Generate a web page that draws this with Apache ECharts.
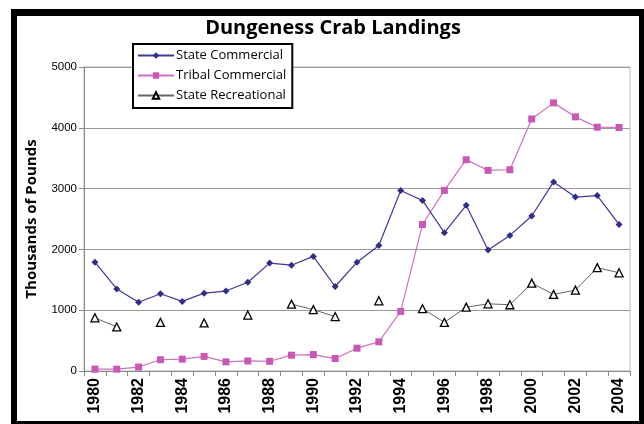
<!DOCTYPE html>
<html>
<head>
<meta charset="utf-8">
<script src="https://cdn.jsdelivr.net/npm/echarts@6/dist/echarts.min.js"></script>
<style>
  html, body { margin: 0; padding: 0; background: #fff; overflow: hidden; }
  #wrap { position: relative; width: 644px; height: 424px; overflow: hidden; }
  #chart { position: absolute; left: 0; top: 0; width: 644px; height: 424px; }
  #frame {
    position: absolute; left: 11px; top: 9px; width: 633px; height: 415px;
    box-sizing: border-box;
    border-left: 6px solid #000; border-top: 7px solid #000;
    border-right: 5px solid #000; border-bottom: 3px solid #000;
    pointer-events: none;
  }
</style>
</head>
<body>
<div id="wrap">
  <div id="chart"></div>
  <div id="frame"></div>
</div>
<script>
const years = ['1980', '1981', '1982', '1983', '1984', '1985', '1986', '1987', '1988', '1989',
  '1990', '1991', '1992', '1993', '1994', '1995', '1996', '1997', '1998', '1999',
  '2000', '2001', '2002', '2003', '2004']
const stateCommercial = [1790, 1350, 1130, 1270, 1145, 1280, 1315, 1460, 1775, 1740,
  1885, 1390, 1790, 2065, 2970, 2805, 2275, 2725, 1990, 2230,
  2550, 3110, 2860, 2885, 2410]
const tribalCommercial = [30, 30, 65, 185, 195, 240, 150, 165, 160, 260,
  270, 205, 375, 480, 980, 2410, 2970, 3475, 3300, 3310,
  4145, 4410, 4180, 4010, 4005]
const stateRecreational = [875, 725, null, 800, null, 790, null, 920, null, 1100,
  1010, 895, null, 1155, null, 1025, 800, 1050, 1105, 1090,
  1445, 1260, 1330, 1700, 1615]
const yTicks = [0, 1000, 2000, 3000, 4000, 5000]

const chart = echarts.init(document.getElementById('chart'))

const option = {
  backgroundColor: '#fff',
  animation: false,
  title: {
    text: 'Dungeness Crab Landings',
    left: 328,
    top: 13,
    textAlign: 'center',
    textStyle: {
      fontFamily: 'Open Sans',
      fontWeight: 'bold',
      fontSize: 20,
      color: '#000'
    }
  },
  legend: {
    orient: 'vertical',
    left: 133,
    top: 44,
    padding: [5, 6, 6, 4],
    itemGap: 7,
    itemWidth: 36,
    itemHeight: 8,
    backgroundColor: '#fff',
    borderColor: '#000',
    borderWidth: 2,
    textStyle: {
      fontFamily: 'Open Sans',
      fontSize: 13,
      color: '#000',
      padding: [0, 0, 0, -3]
    },
    data: ['State Commercial', 'Tribal Commercial', 'State Recreational']
  },
  grid: {
    left: 84,
    right: 14,
    top: 67,
    bottom: 53,
    show: true,
    borderColor: '#bbb',
    borderWidth: 1
  },
  xAxis: {
    type: 'category',
    data: years,
    boundaryGap: true,
    axisLine: { lineStyle: { color: '#888', width: 1 } },
    axisTick: { show: true, interval: 0, length: 5, lineStyle: { color: '#888' } },
    axisLabel: {
      interval: 1,
      rotate: 90,
      margin: 7,
      fontFamily: 'Liberation Sans',
      fontWeight: 'bold',
      fontSize: 16,
      color: '#000'
    },
    splitLine: { show: false }
  },
  yAxis: {
    type: 'value',
    min: yTicks[0],
    max: yTicks[yTicks.length - 1],
    interval: 1000,
    name: 'Thousands of Pounds',
    nameLocation: 'middle',
    nameGap: 45,
    nameTextStyle: {
      fontFamily: 'Open Sans',
      fontWeight: 'bold',
      fontSize: 15,
      color: '#000'
    },
    axisLine: { show: true, lineStyle: { color: '#888' } },
    axisTick: { show: true, length: 5, lineStyle: { color: '#888' } },
    axisLabel: {
      margin: 7,
      fontFamily: 'Liberation Sans',
      fontSize: 11.5,
      color: '#000',
      formatter: v => String(v)
    },
    splitLine: { show: true, lineStyle: { color: '#999', width: 1 } }
  },
  series: [
    {
      name: 'State Commercial',
      type: 'line',
      data: stateCommercial,
      symbol: 'diamond',
      symbolSize: 7,
      color: '#2e2e8a',
      lineStyle: { width: 1.2, color: '#3a3a96' },
      z: 3
    },
    {
      name: 'Tribal Commercial',
      type: 'line',
      data: tribalCommercial,
      symbol: 'rect',
      symbolSize: 7,
      color: '#c857b6',
      lineStyle: { width: 1.2, color: '#d06fbf' },
      z: 2
    },
    {
      name: 'State Recreational',
      type: 'line',
      data: stateRecreational,
      connectNulls: false,
      symbol: 'triangle',
      symbolSize: 8,
      showAllSymbol: true,
      color: '#000',
      itemStyle: { color: '#fff', borderColor: '#000', borderWidth: 1.3 },
      lineStyle: { width: 1, color: '#666' },
      z: 4
    }
  ]
}

chart.setOption(option)
</script>
</body>
</html>
